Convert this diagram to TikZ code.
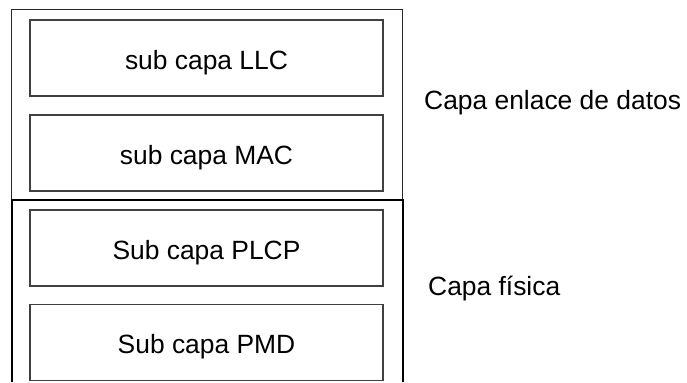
\documentclass[tikz,border=0pt]{standalone}
\usepackage{fontspec}
\setmainfont{Liberation Sans}
\begin{document}
\begin{tikzpicture}[x=1bp,y=1bp,
  sublayer/.style={draw=black!75, line width=1.2bp, minimum width=353bp, minimum height=76bp, inner sep=0pt, text height=24bp, text depth=1.6bp, font=\fontsize{26.5}{30}\selectfont},
  lbl/.style={anchor=base west, inner sep=0pt, font=\fontsize{26.5}{30}\selectfont}]
\useasboundingbox (0,0) rectangle (687,382);
% outer box: data link layer
\draw[black!85, line width=1bp] (11,372) rectangle (402,182);
% outer box: physical layer (open at bottom)
\draw[black, line width=2bp] (12,0) -- (12,182) -- (402.5,182) -- (402.5,0);
\node[sublayer] (llc)  at (206.5,324) {sub capa LLC};
\node[sublayer] (mac)  at (206.5,229) {sub capa MAC};
\node[sublayer] (plcp) at (206.5,134) {Sub capa PLCP};
\node[sublayer] (pmd)  at (206.5,39.5) {Sub capa PMD};
\node[lbl] (enlace) at (424,272.7) {Capa enlace de datos};
\node[lbl] (fisica) at (428,87) {Capa física};
\end{tikzpicture}
\end{document}
